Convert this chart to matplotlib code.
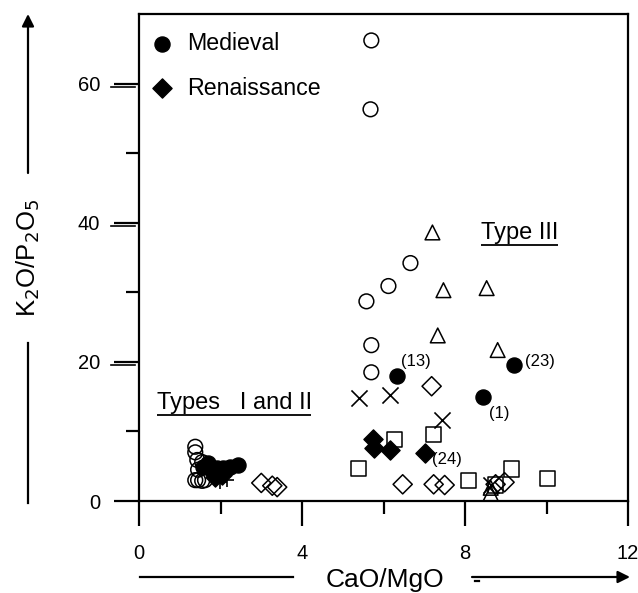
import matplotlib
matplotlib.use("Agg")
import matplotlib.pyplot as plt
from matplotlib.lines import Line2D
import matplotlib.transforms as mtransforms

plt.rcParams['font.family'] = ['Liberation Sans', 'DejaVu Sans']

# ---- data (CaO/MgO, K2O/P2O5) ----
open_circle_x = [5.70, 5.68, 6.66, 6.12, 5.58, 5.70, 5.70,
                 1.38, 1.38, 1.43, 1.55, 1.45, 1.38, 1.45, 1.55, 1.62]
open_circle_y = [66.2, 56.3, 34.2, 30.9, 28.7, 22.4, 18.5,
                 7.8, 7.0, 5.9, 5.6, 4.5, 3.0, 3.0, 2.9, 3.0]

triangle_x = [7.20, 7.47, 8.53, 7.33, 8.80, 8.63, 8.63]
triangle_y = [38.6, 30.3, 30.6, 23.8, 21.7, 1.1, 1.9]

medieval_x = [6.34, 9.20, 8.43, 2.43, 2.24, 2.07, 1.92, 1.80, 1.70, 1.57]
medieval_y = [18.0, 19.5, 14.9, 5.2, 4.9, 4.7, 4.7, 4.5, 5.5, 4.9]

renaissance_x = [5.73, 5.76, 6.15, 7.01, 1.87, 2.04]
renaissance_y = [8.9, 7.6, 7.3, 6.9, 3.4, 3.7]

open_diamond_x = [7.18, 6.47, 7.23, 7.50, 8.97, 8.75, 3.00, 3.27, 3.39]
open_diamond_y = [16.5, 2.4, 2.4, 2.3, 2.7, 2.4, 2.6, 2.2, 2.0]

square_x = [5.38, 6.27, 7.23, 8.09, 9.15, 10.03, 8.75]
square_y = [4.7, 8.8, 9.6, 2.9, 4.6, 3.2, 2.3]

cross_x = [5.41, 6.15, 7.43, 8.63]
cross_y = [14.8, 15.2, 11.6, 2.3]

plus_x = [2.16, 1.99]
plus_y = [3.0, 2.7]

sample_labels = ["(13)", "(23)", "(1)", "(24)"]
sample_label_x = [6.44, 9.47, 8.58, 7.18]
sample_label_y = [20.0, 20.0, 12.6, 5.9]

x_ticks = [0, 4, 8, 12]
y_ticks = [0, 20, 40, 60]

# ---- figure ----
fig = plt.figure(figsize=(6.38, 5.93), dpi=100)
ax = fig.add_axes([0.2179, 0.1551, 0.7665, 0.8213])
ax.set_xlim(0, 12)
ax.set_ylim(0, 70)

ms = 112
ax.scatter(open_circle_x, open_circle_y, s=ms, marker='o', facecolors='none',
           edgecolors='black', linewidths=1.1, zorder=3)
ax.scatter(triangle_x, triangle_y, s=ms, marker='^', facecolors='none',
           edgecolors='black', linewidths=1.1, zorder=3)
ax.scatter(open_diamond_x, open_diamond_y, s=ms * 0.85, marker='D', facecolors='none',
           edgecolors='black', linewidths=1.1, zorder=3)
ax.scatter(square_x, square_y, s=ms * 1.05, marker='s', facecolors='none',
           edgecolors='black', linewidths=1.1, zorder=3)
ax.scatter(cross_x, cross_y, s=ms * 1.2, marker='x', color='black',
           linewidths=1.2, zorder=3)
ax.scatter(plus_x, plus_y, s=ms, marker='+', color='black',
           linewidths=1.2, zorder=3)
h_med = ax.scatter(medieval_x, medieval_y, s=ms * 1.05, marker='o', color='black',
                   zorder=4, label='Medieval')
h_ren = ax.scatter(renaissance_x, renaissance_y, s=ms * 0.85, marker='D', color='black',
                   zorder=4, label='Renaissance')

for lab, lx, ly in zip(sample_labels, sample_label_x, sample_label_y):
    ax.text(lx, ly, lab, fontsize=12, ha='left', va='center')

ax.text(0.44, 13.2, "Types   I and II", fontsize=17, ha='left', va='baseline')
ax.plot([0.44, 4.23], [12.4, 12.4], color='black', lw=1.3, clip_on=False,
        solid_capstyle='butt')
ax.text(8.38, 37.6, "Type III", fontsize=17, ha='left', va='baseline')
ax.plot([8.38, 10.28], [36.8, 36.8], color='black', lw=1.3, clip_on=False,
        solid_capstyle='butt')

leg = ax.legend(handles=[h_med, h_ren], loc='upper left', frameon=False,
                fontsize=16.7, bbox_to_anchor=(0.0, 1 - 8.9 / 487),
                borderaxespad=0.0, borderpad=0.4, handlelength=1.2,
                handletextpad=0.47, labelspacing=0.92, scatterpoints=1)

# ---- spines & ticks ----
for sp in ax.spines.values():
    sp.set_linewidth(1.6)

ax.set_xticks(x_ticks)
ax.set_xticks([2, 6, 10], minor=True)
ax.set_yticks(y_ticks)
ax.set_yticks([10, 30, 50], minor=True)
ax.tick_params(axis='both', which='major', direction='out', length=18,
               width=1.6, labelsize=14.5)
ax.tick_params(axis='both', which='minor', direction='out', length=9.5, width=1.6)
ax.tick_params(axis='y', which='major', pad=10)
ax.tick_params(axis='x', which='major', pad=13)

# double-line look on y major ticks (20, 40, 60)
trans = mtransforms.blended_transform_factory(ax.transAxes, ax.transData)
off = mtransforms.ScaledTranslation(0, -3 / 100, fig.dpi_scale_trans)
for yv in y_ticks[1:]:
    ax.plot([-0.058, -0.008], [yv, yv], color='black', lw=1.2,
            transform=trans + off, clip_on=False)

# ---- axis titles with arrows ----
fig.text(385 / 638, 1 - 580 / 593, "CaO/MgO", fontsize=19, ha='center', va='center')
fig.add_artist(Line2D([140 / 638, 293 / 638], [1 - 577 / 593, 1 - 577 / 593],
                      color='black', lw=1.6, transform=fig.transFigure))
fig.add_artist(Line2D([475 / 638, 479 / 638], [1 - 581 / 593, 1 - 581 / 593],
                      color='black', lw=1.6, transform=fig.transFigure))
ax.annotate("", xy=(630 / 638, 1 - 577 / 593), xytext=(472 / 638, 1 - 577 / 593),
            xycoords='figure fraction', textcoords='figure fraction',
            arrowprops=dict(arrowstyle='-|>', color='black', lw=1.6,
                            mutation_scale=18, shrinkA=0, shrinkB=0))

fig.text(28 / 638, 1 - 258 / 593, "K$_2$O/P$_2$O$_5$", fontsize=18.5, rotation=90,
         ha='center', va='center')
ax.annotate("", xy=(28 / 638, 1 - 14 / 593), xytext=(28 / 638, 1 - 173 / 593),
            xycoords='figure fraction', textcoords='figure fraction',
            arrowprops=dict(arrowstyle='-|>', color='black', lw=1.6,
                            mutation_scale=18, shrinkA=0, shrinkB=0))
fig.add_artist(Line2D([28 / 638, 28 / 638], [1 - 343 / 593, 1 - 503 / 593],
                      color='black', lw=1.6, transform=fig.transFigure))

fig.savefig("out.png", dpi=100)
